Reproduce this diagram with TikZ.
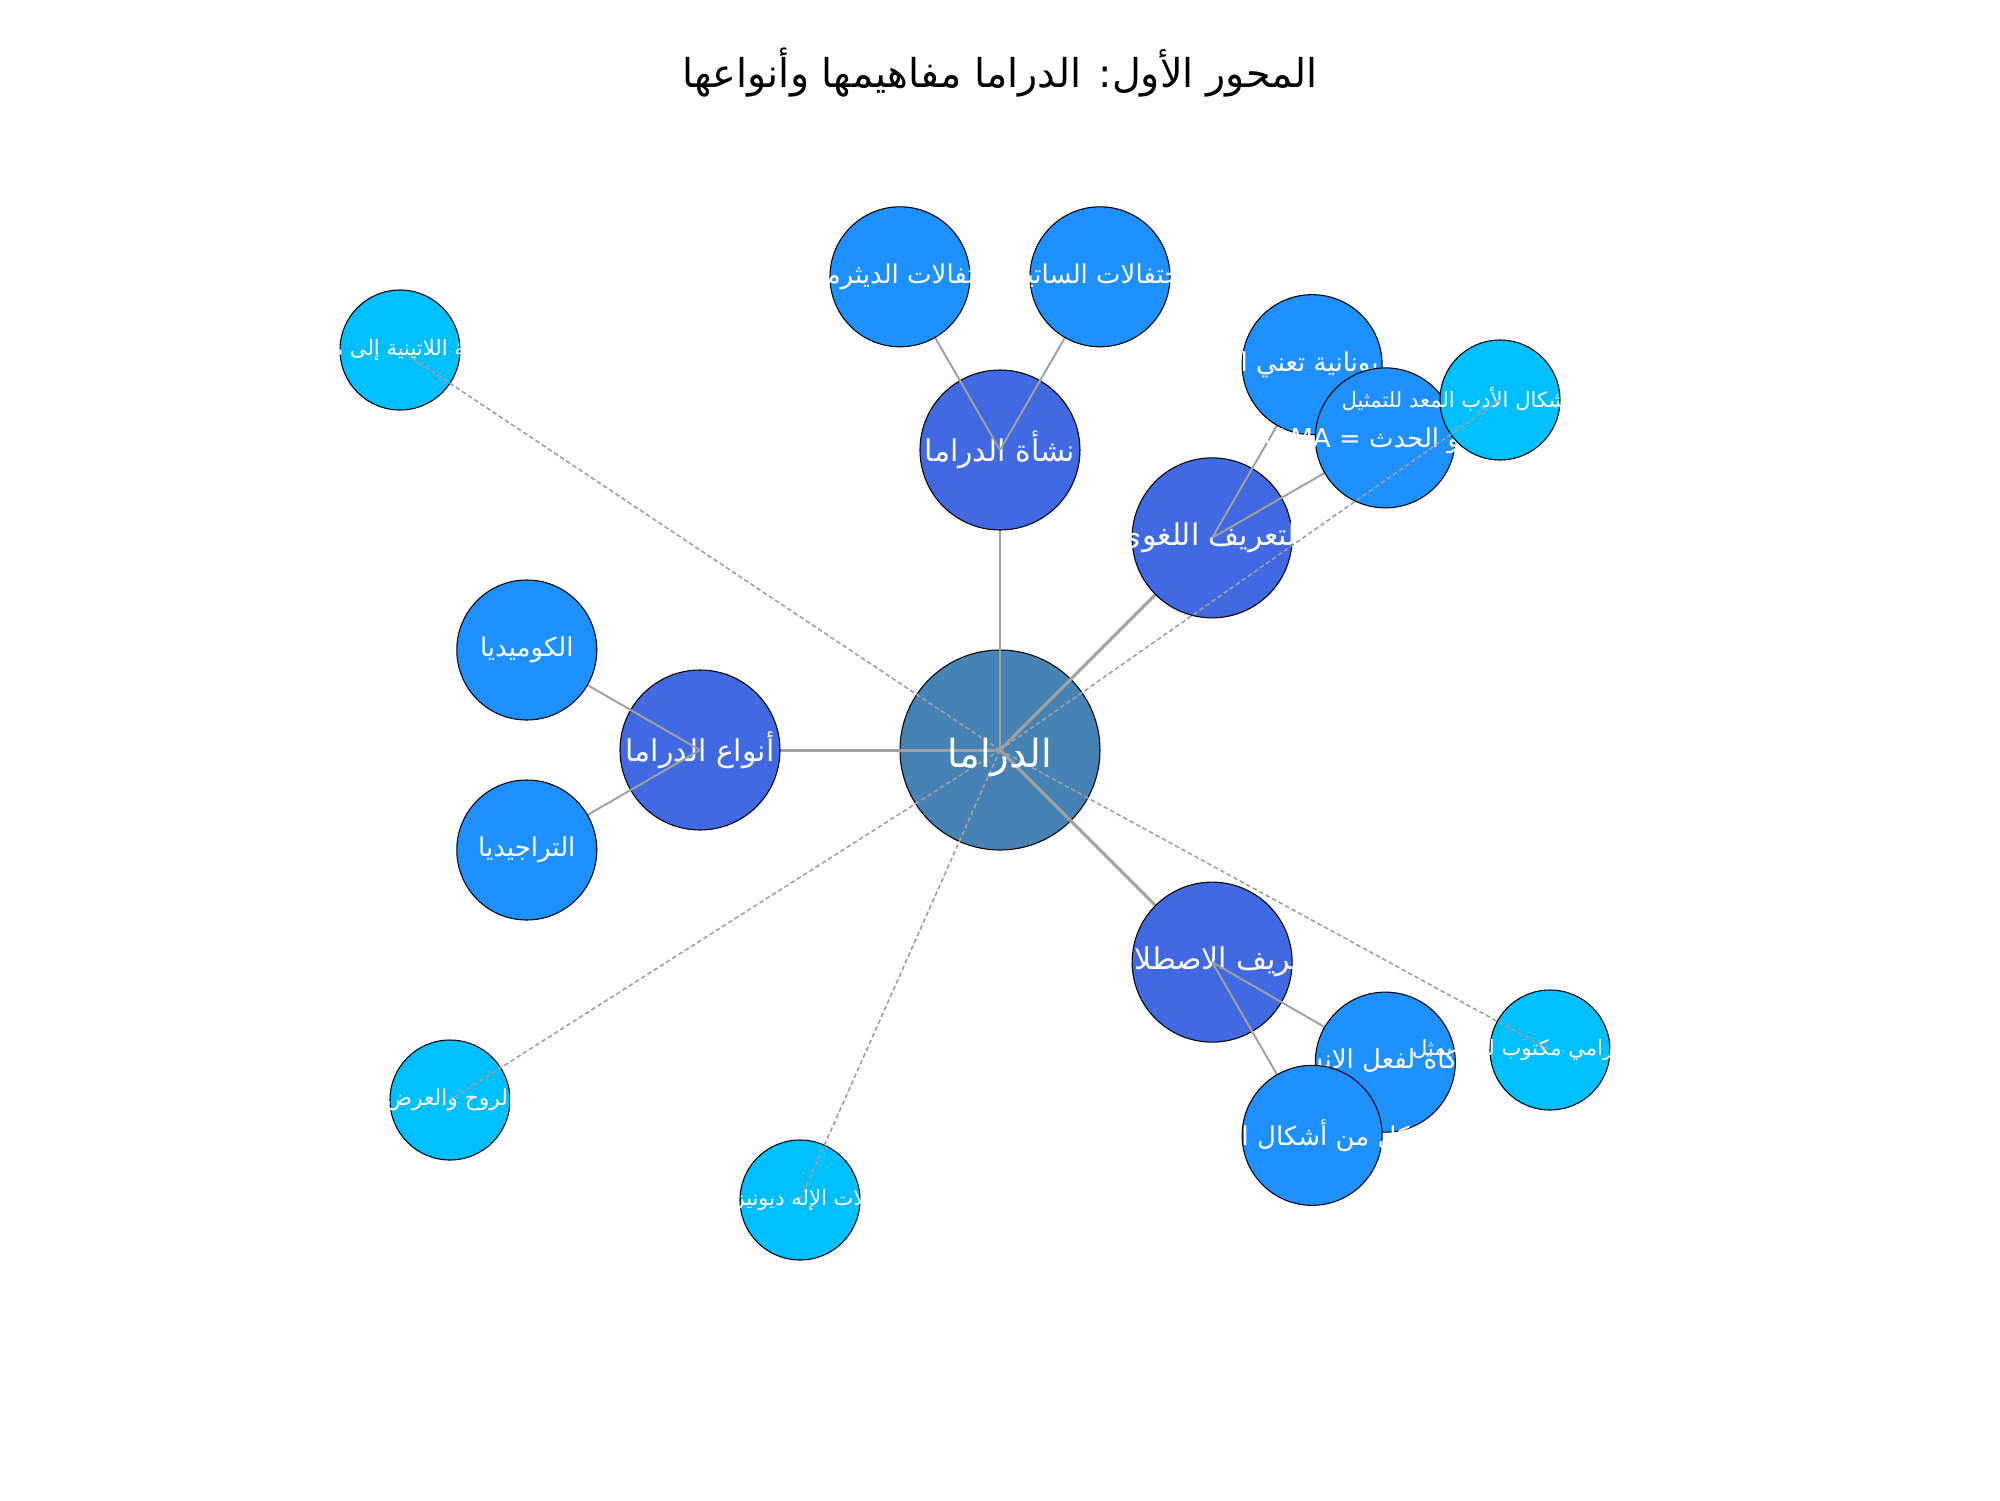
\documentclass[tikz,border=0pt]{standalone}
\usepackage{fontspec}
\newfontfamily\arabicfont[Script=Arabic]{DejaVu Sans}
\TeXXeTstate=1
\usetikzlibrary{calc}
\usetikzlibrary{positioning}

\definecolor{steelblue}{RGB}{70,130,180}
\definecolor{royalblue}{RGB}{65,105,225}
\definecolor{dodgerblue}{RGB}{30,144,255}
\definecolor{deepskyblue}{RGB}{0,191,255}
\definecolor{edgegray}{RGB}{160,160,160}

\pgfdeclarelayer{rootlayer}
\pgfdeclarelayer{trunklayer}
\pgfdeclarelayer{branchlayer}
\pgfdeclarelayer{upperlayer}
\pgfdeclarelayer{toplayer}
\pgfsetlayers{rootlayer,trunklayer,main,branchlayer,upperlayer,toplayer}

\tikzset{
  bubble/.style={circle, draw=black, line width=0.3pt, inner sep=0pt},
  rootnode/.style={bubble, fill=steelblue, minimum size=2cm},
  mainnode/.style={bubble, fill=royalblue, minimum size=1.6cm},
  subnode/.style={bubble, fill=dodgerblue, minimum size=1.4cm},
  leafnode/.style={bubble, fill=deepskyblue, minimum size=1.2cm},
  titletext/.style={text=black, inner sep=0pt, font=\arabicfont\fontsize{11.3}{13}\selectfont},
  roottext/.style={text=white, inner sep=0pt, font=\arabicfont\fontsize{11}{13}\selectfont},
  maintext/.style={text=white, inner sep=0pt, font=\arabicfont\fontsize{8.5}{10}\selectfont},
  subtext/.style={text=white, inner sep=0pt, font=\arabicfont\fontsize{7.4}{9}\selectfont},
  leaftext/.style={text=white, inner sep=0pt, font=\arabicfont\fontsize{6}{7}\selectfont},
  trunk/.style={draw=edgegray, line width=0.85pt},
  branch/.style={draw=edgegray, line width=0.55pt},
  twig/.style={draw=edgegray, line width=0.45pt, dash pattern=on 1.3pt off 0.8pt}
}

\begin{document}
\begin{tikzpicture}
\useasboundingbox (-10,-7.5) rectangle (10,7.5);

%title
\node[titletext] (title) at (0,6.77) {\beginR المحور الأول: الدراما مفاهيمها وأنواعها\endR};

%centre
\begin{pgfonlayer}{rootlayer}
\fill[white] (-10,-7.5) rectangle (10,7.5);
\node[rootnode] (drama) at (0,0) {};
\end{pgfonlayer}

%first ring
\node[mainnode, label={[maintext]center:{\beginR نشأة الدراما\endR}}] (nash) at (90:3) {};
\node[mainnode, label={[maintext]center:{\beginR التعريف اللغوي\endR}}] (lugha) at (45:3) {};
\node[mainnode, label={[maintext]center:{\beginR أنواع الدراما\endR}}] (anwa) at (180:3) {};
\node[mainnode, label={[maintext]center:{\beginR التعريف الاصطلاحي\endR}}] (istilah) at (-45:3) {};

\begin{pgfonlayer}{trunklayer}
\foreach \n in {nash,lugha,anwa,istilah} {
\draw[trunk] (drama.center) -- (\n.center);
}
\end{pgfonlayer}

%second ring
\begin{pgfonlayer}{upperlayer}
\node[subnode, label={[subtext]center:{\beginR احتفالات الديثرمب\endR}}] (dith) at ($(nash)+(120:2)$) {};
\node[subnode, label={[subtext]center:{\beginR احتفالات الساتير\endR}}] (satyr) at ($(nash)+(60:2)$) {};
\node[subnode, label={[subtext]center:{\beginR كلمة يونانية تعني الفعل\endR}}] (yunan) at ($(lugha)+(60:2)$) {};
\node[subnode, label={[subtext]center:{\beginR الفعل أو الحدث = \beginL DRAMA\endL\endR}}] (dramaword) at ($(lugha)+(30:2)$) {};
\node[subnode, label={[subtext]center:{\beginR الكوميديا\endR}}] (comedy) at ($(anwa)+(150:2)$) {};
\node[subnode, label={[subtext]center:{\beginR التراجيديا\endR}}] (tragedy) at ($(anwa)+(210:2)$) {};
\node[subnode, label={[subtext]center:{\beginR محاكاة لفعل الإنسان\endR}}] (muhakat) at ($(istilah)+(-30:2)$) {};
\node[subnode, label={[subtext]center:{\beginR شكل من أشكال الأدب\endR}}] (ashkal) at ($(istilah)+(-60:2)$) {};

%outer ring
\node[leafnode, label={[leaftext]center:{\beginR انتقلت الكلمة اللاتينية إلى معظم اللغات\endR}}] (latin) at (-6,4) {};
\node[leafnode, label={[leaftext]center:{\beginR شكل من أشكال الأدب المعد للتمثيل\endR}}] (adab) at (5,3.5) {};
\node[leafnode, label={[leaftext]center:{\beginR النص الدرامي مكتوب لكي يمثل\endR}}] (nass) at (5.5,-3) {};
\node[leafnode, label={[leaftext, font=\arabicfont\fontsize{6.2}{7}\selectfont]center:{\beginR الروح والعرض\endR}}] (ruh) at (-5.5,-3.5) {};
\node[leafnode, label={[leaftext]center:{\beginR احتفالات الإله ديونيزيوس\endR}}] (dionys) at (-2,-4.5) {};
\end{pgfonlayer}

\begin{pgfonlayer}{branchlayer}
\draw[branch] (nash.center) -- (dith.center);
\draw[branch] (nash.center) -- (satyr.center);
\draw[branch] (lugha.center) -- (yunan.center);
\draw[branch] (lugha.center) -- (dramaword.center);
\draw[branch] (anwa.center) -- (comedy.center);
\draw[branch] (anwa.center) -- (tragedy.center);
\draw[branch] (istilah.center) -- (muhakat.center);
\draw[branch] (istilah.center) -- (ashkal.center);
\end{pgfonlayer}

\begin{pgfonlayer}{toplayer}
\foreach \n in {latin,adab,nass,ruh,dionys} {
\draw[twig] (drama.center) -- (\n.center);
}
\node[roottext] (dramatext) at ($(drama)+(0,-0.08)$) {\beginR الدراما\endR};
\end{pgfonlayer}

\end{tikzpicture}
\end{document}
